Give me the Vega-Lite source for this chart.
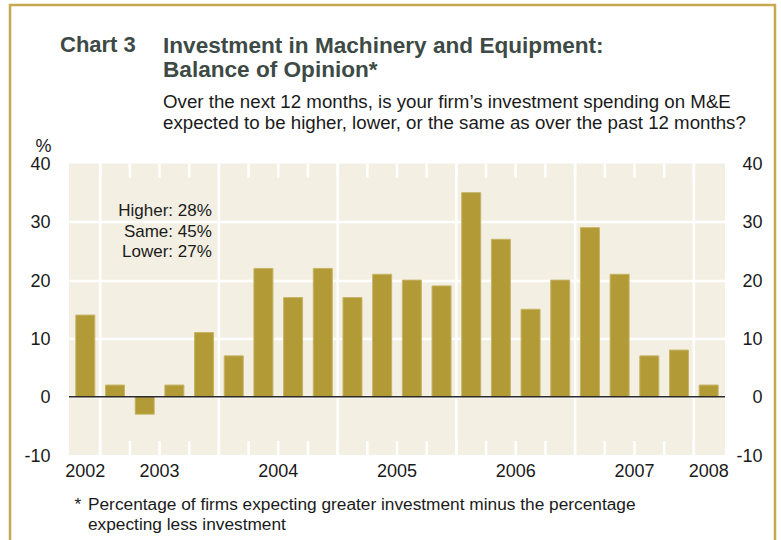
{
  "$schema": "https://vega.github.io/schema/vega-lite/v6.json",
  "width": 656,
  "height": 291.5,
  "autosize": "none",
  "padding": {"left": 69, "top": 163.5, "right": 56, "bottom": 85},
  "background": "#ffffff",
  "config": {
    "font": "Liberation Sans",
    "view": {"fill": "#f3f0e3", "stroke": null}
  },
  "title": {
    "text": ["Investment in Machinery and Equipment:", "Balance of Opinion*"],
    "subtitle": ["Over the next 12 months, is your firm\u2019s investment spending on M&E", "expected to be higher, lower, or the same as over the past 12 months?"],
    "anchor": "start",
    "frame": "group",
    "dx": 94,
    "font": "Liberation Sans",
    "fontSize": 22.6,
    "fontWeight": "bold",
    "color": "#3d4a45",
    "lineHeight": 23.5,
    "subtitleFont": "Liberation Sans",
    "subtitleFontSize": 18.7,
    "subtitleColor": "#1a1a1a",
    "subtitleLineHeight": 21.5,
    "subtitlePadding": 11,
    "offset": -129
  },
  "datasets": {
    "bos": [
      {"quarter": "2002Q4", "value": 14},
      {"quarter": "2003Q1", "value": 2},
      {"quarter": "2003Q2", "value": -3},
      {"quarter": "2003Q3", "value": 2},
      {"quarter": "2003Q4", "value": 11},
      {"quarter": "2004Q1", "value": 7},
      {"quarter": "2004Q2", "value": 22},
      {"quarter": "2004Q3", "value": 17},
      {"quarter": "2004Q4", "value": 22},
      {"quarter": "2005Q1", "value": 17},
      {"quarter": "2005Q2", "value": 21},
      {"quarter": "2005Q3", "value": 20},
      {"quarter": "2005Q4", "value": 19},
      {"quarter": "2006Q1", "value": 35},
      {"quarter": "2006Q2", "value": 27},
      {"quarter": "2006Q3", "value": 15},
      {"quarter": "2006Q4", "value": 20},
      {"quarter": "2007Q1", "value": 29},
      {"quarter": "2007Q2", "value": 21},
      {"quarter": "2007Q3", "value": 7},
      {"quarter": "2007Q4", "value": 8},
      {"quarter": "2008Q1", "value": 2}
    ],
    "years": [
      {"year": "2002", "quarter": "2002Q4"},
      {"year": "2003", "quarter": "2003Q3"},
      {"year": "2004", "quarter": "2004Q3"},
      {"year": "2005", "quarter": "2005Q3"},
      {"year": "2006", "quarter": "2006Q3"},
      {"year": "2007", "quarter": "2007Q3"},
      {"year": "2008", "quarter": "2008Q1"}
    ],
    "note": [{"text": "Higher: 28%\nSame: 45%\nLower: 27%"}],
    "footnote": [{"star": "*", "text": "Percentage of firms expecting greater investment minus the percentage\nexpecting less investment"}]
  },
  "layer": [
    {
      "data": {"values": [{}]},
      "mark": {"type": "rect", "fill": "transparent", "stroke": "#c6a94f", "strokeWidth": 2.5},
      "encoding": {
        "x": {"value": -59},
        "x2": {"value": 706},
        "y": {"value": -158.5},
        "y2": {"value": 420}
      }
    },
    {
      "data": {"name": "bos"},
      "transform": [{"filter": "indexof(datum.quarter, 'Q1') > 0"}],
      "mark": {"type": "rule", "color": "#ffffff", "strokeWidth": 2.5},
      "encoding": {
        "x": {"field": "quarter", "type": "ordinal", "bandPosition": 0, "axis": null, "scale": {"paddingInner": 0, "paddingOuter": 0.05}}
      }
    },
    {
      "data": {"name": "bos"},
      "transform": [{"filter": "datum.quarter != '2002Q4'"}],
      "mark": {"type": "rule", "color": "#ffffff", "strokeWidth": 2.5},
      "encoding": {
        "x": {"field": "quarter", "type": "ordinal", "bandPosition": 0, "axis": null},
        "y": {"datum": 40, "type": "quantitative", "axis": null, "scale": {"domain": [-10, 40], "nice": false, "zero": false}},
        "y2": {"datum": 37.6}
      }
    },
    {
      "data": {"name": "bos"},
      "transform": [{"filter": "datum.quarter != '2002Q4'"}],
      "mark": {"type": "rule", "color": "#ffffff", "strokeWidth": 2.5},
      "encoding": {
        "x": {"field": "quarter", "type": "ordinal", "bandPosition": 0, "axis": null},
        "y": {"datum": -10, "type": "quantitative", "axis": null, "scale": {"domain": [-10, 40], "nice": false, "zero": false}},
        "y2": {"datum": -7.6}
      }
    },
    {
      "data": {"name": "bos"},
      "mark": {"type": "bar", "color": "#b29a36", "stroke": "#c6b467", "strokeWidth": 1, "width": {"band": 0.64}},
      "encoding": {
        "x": {
          "field": "quarter",
          "type": "ordinal",
          "scale": {"paddingInner": 0, "paddingOuter": 0.05},
          "axis": null
        },
        "y": {
          "field": "value",
          "type": "quantitative",
          "scale": {"domain": [-10, 40], "nice": false, "zero": false},
          "axis": {
            "orient": "left",
            "values": [-10, 0, 10, 20, 30, 40],
            "labelExpr": "toString(datum.value)",
            "grid": true,
            "gridColor": "#ffffff",
            "gridWidth": 2.5,
            "gridOpacity": {"condition": {"test": "datum.value == 40 || datum.value == -10", "value": 0}, "value": 1},
            "ticks": false,
            "domain": false,
            "labelFont": "Liberation Sans",
            "labelFontSize": 18,
            "labelColor": "#1a1a1a",
            "labelPadding": 19,
            "labelOffset": 1,
            "title": "%",
            "titleAngle": 0,
            "titleFont": "Liberation Sans",
            "titleFontSize": 18,
            "titleFontWeight": "normal",
            "titleColor": "#1a1a1a",
            "titleAlign": "center",
            "titleBaseline": "middle",
            "titleX": -26,
            "titleY": -17
          }
        }
      }
    },
    {
      "data": {"values": [{}]},
      "mark": {"type": "rule", "color": "#2b2b2b", "strokeWidth": 1.5},
      "encoding": {
        "y": {
          "datum": 0,
          "type": "quantitative",
          "scale": {"domain": [-10, 40], "nice": false, "zero": false},
          "axis": {
            "orient": "right",
            "values": [-10, 0, 10, 20, 30, 40],
            "labelExpr": "toString(datum.value)",
            "grid": false,
            "ticks": false,
            "domain": false,
            "labelFont": "Liberation Sans",
            "labelFontSize": 18,
            "labelColor": "#1a1a1a",
            "labelAlign": "right",
            "labelPadding": 37,
            "labelOffset": 1,
            "title": null
          }
        }
      }
    },
    {
      "data": {"name": "note"},
      "mark": {"type": "text", "align": "right", "baseline": "middle", "fontSize": 17, "lineHeight": 20.5, "lineBreak": "\n", "color": "#1a1a1a", "font": "Liberation Sans"},
      "encoding": {
        "text": {"field": "text"},
        "x": {"datum": "2003Q4", "type": "ordinal", "bandPosition": 0.76, "axis": null},
        "y": {"datum": 31.85, "type": "quantitative", "axis": null, "scale": {"domain": [-10, 40], "nice": false, "zero": false}}
      }
    },
    {
      "data": {"name": "years"},
      "transform": [{"filter": "datum.year == '2002' || datum.year == '2008'"}],
      "mark": {"type": "text", "baseline": "middle", "fontSize": 18, "dy": 16.5, "color": "#1a1a1a", "font": "Liberation Sans"},
      "encoding": {
        "text": {"field": "year"},
        "x": {"field": "quarter", "type": "ordinal", "bandPosition": 0.5, "axis": null},
        "y": {"datum": -10, "type": "quantitative", "axis": null, "scale": {"domain": [-10, 40], "nice": false, "zero": false}}
      }
    },
    {
      "data": {"name": "years"},
      "transform": [{"filter": "datum.year != '2002' && datum.year != '2008'"}],
      "mark": {"type": "text", "baseline": "middle", "fontSize": 18, "dy": 16.5, "color": "#1a1a1a", "font": "Liberation Sans"},
      "encoding": {
        "text": {"field": "year"},
        "x": {"field": "quarter", "type": "ordinal", "bandPosition": 0, "axis": null},
        "y": {"datum": -10, "type": "quantitative", "axis": null, "scale": {"domain": [-10, 40], "nice": false, "zero": false}}
      }
    },
    {
      "data": {"name": "footnote"},
      "mark": {"type": "text", "align": "left", "baseline": "middle", "fontSize": 17.3, "dx": 4, "dy": 50, "color": "#1a1a1a", "font": "Liberation Sans"},
      "encoding": {
        "text": {"field": "star"},
        "x": {"datum": "2002Q4", "type": "ordinal", "bandPosition": 0, "axis": null},
        "y": {"datum": -10, "type": "quantitative", "axis": null, "scale": {"domain": [-10, 40], "nice": false, "zero": false}}
      }
    },
    {
      "data": {"name": "footnote"},
      "mark": {"type": "text", "align": "left", "baseline": "middle", "fontSize": 17.3, "lineHeight": 20, "lineBreak": "\n", "dx": 17.5, "dy": 50, "color": "#1a1a1a", "font": "Liberation Sans"},
      "encoding": {
        "text": {"field": "text"},
        "x": {"datum": "2002Q4", "type": "ordinal", "bandPosition": 0, "axis": null},
        "y": {"datum": -10, "type": "quantitative", "axis": null, "scale": {"domain": [-10, 40], "nice": false, "zero": false}}
      }
    },
    {
      "data": {"values": [{}]},
      "mark": {"type": "text", "text": "Chart 3", "align": "left", "baseline": "alphabetic", "fontSize": 22, "fontWeight": "bold", "color": "#3d4a45", "font": "Liberation Sans"},
      "encoding": {
        "x": {"value": -9},
        "y": {"value": -111.8}
      }
    }
  ],
  "resolve": {"axis": {"y": "independent"}}
}
